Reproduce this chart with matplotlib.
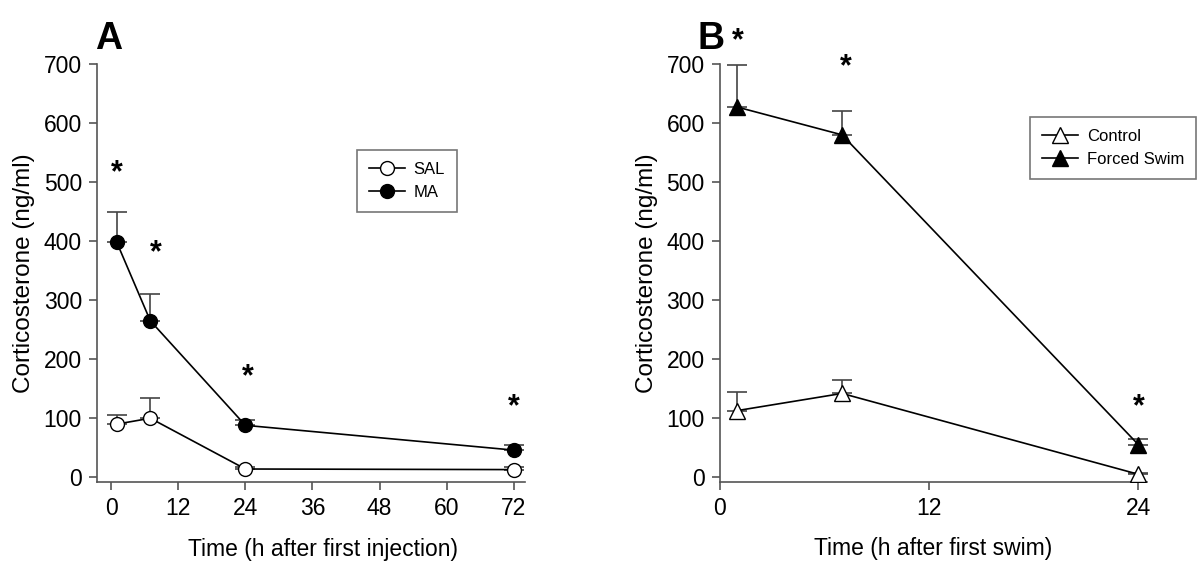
import matplotlib
matplotlib.use("Agg")
import matplotlib.pyplot as plt

plt.rcParams['font.family'] = ['Liberation Sans', 'DejaVu Sans']

# Panel A data
a_time = [1, 7, 24, 72]
sal_mean = [90, 100, 14, 13]
sal_err = [16, 35, 4, 4]
ma_mean = [398, 265, 88, 46]
ma_err = [52, 46, 9, 9]
a_star_x = [1, 8, 24.5, 72]
a_star_y = [515, 380, 170, 118]
a_xticks = [0, 12, 24, 36, 48, 60, 72]

# Panel B data
b_time = [1, 7, 24]
ctrl_mean = [113, 142, 5]
ctrl_err = [31, 23, 2]
swim_mean = [627, 580, 55]
swim_err = [71, 40, 10]
b_star_x = [1, 7.2, 24]
b_star_y = [738, 695, 118]
b_xticks = [0, 12, 24]

yticks = [0, 100, 200, 300, 400, 500, 600, 700]

fig = plt.figure(figsize=(12, 5.64), dpi=100)
axA = fig.add_axes([0.081, 0.1454, 0.3565, 0.7411])
axB = fig.add_axes([0.600, 0.1454, 0.356, 0.7411])

spine_col = '#555555'
ms = 10

def style(ax):
    for s in ['top', 'right']:
        ax.spines[s].set_visible(False)
    for s in ['left', 'bottom']:
        ax.spines[s].set_color(spine_col)
        ax.spines[s].set_linewidth(1.2)
    ax.tick_params(direction='out', length=6, width=1.2, color=spine_col,
                   labelsize=16.5, pad=5)
    ax.set_yticks(yticks)
    ax.set_ylim(-8, 700)
    ax.set_ylabel('Corticosterone (ng/ml)', fontsize=17.5, labelpad=6)

# Panel A
style(axA)
axA.errorbar(a_time, sal_mean, yerr=[[0]*4, sal_err], fmt='none',
             ecolor='#444444', elinewidth=1.2, capsize=7, capthick=1.2, zorder=2)
axA.errorbar(a_time, ma_mean, yerr=[[0]*4, ma_err], fmt='none',
             ecolor='#444444', elinewidth=1.2, capsize=7, capthick=1.2, zorder=2)
axA.plot(a_time, sal_mean, '-o', color='black', mfc='white', mec='black',
         ms=ms, lw=1.2, mew=1.0, label='SAL', zorder=3)
axA.plot(a_time, ma_mean, '-o', color='black', mfc='black', mec='black',
         ms=ms, lw=1.2, label='MA', zorder=3)
for x, y in zip(a_star_x, a_star_y):
    axA.text(x, y, '*', ha='center', va='center', fontsize=22, fontweight='bold')
axA.set_xlim(-2.5, 74)
axA.set_xticks(a_xticks)
axA.set_xlabel('Time (h after first injection)', fontsize=16.5, labelpad=12)
axA.xaxis.set_label_coords(0.528, -0.135)
legA = axA.legend(loc='upper left', bbox_to_anchor=(0.607, 0.794), frameon=True,
                  fancybox=False, fontsize=12, handlelength=2.2, borderpad=0.7,
                  labelspacing=0.5, handletextpad=0.5, borderaxespad=0)
legA.get_frame().set_edgecolor(spine_col)
legA.get_frame().set_linewidth(1.2)
fig.text(0.079, 0.93, 'A', fontsize=27, fontweight='bold', ha='left', va='center')

# Panel B
style(axB)
axB.errorbar(b_time, ctrl_mean, yerr=[[0]*3, ctrl_err], fmt='none',
             ecolor='#444444', elinewidth=1.2, capsize=7, capthick=1.2, zorder=2)
axB.errorbar(b_time, swim_mean, yerr=[[0]*3, swim_err], fmt='none',
             ecolor='#444444', elinewidth=1.2, capsize=7, capthick=1.2, zorder=2)
axB.plot(b_time, ctrl_mean, '-^', color='black', mfc='white', mec='black',
         ms=11, lw=1.2, mew=1.0, label='Control', zorder=3)
axB.plot(b_time, swim_mean, '-^', color='black', mfc='black', mec='black',
         ms=11, lw=1.2, label='Forced Swim', zorder=3)
for x, y in zip(b_star_x, b_star_y):
    axB.text(x, y, '*', ha='center', va='center', fontsize=22, fontweight='bold',
             clip_on=False)
axB.set_xlim(0, 24.5)
axB.set_xticks(b_xticks)
axB.set_xlabel('Time (h after first swim)', fontsize=16.5, labelpad=12)
legB = axB.legend(loc='upper left', bbox_to_anchor=(0.726, 0.873), frameon=True,
                  fancybox=False, fontsize=12, handlelength=2.2, borderpad=0.7,
                  labelspacing=0.5, handletextpad=0.5, borderaxespad=0)
legB.get_frame().set_edgecolor(spine_col)
legB.get_frame().set_linewidth(1.2)
fig.text(0.581, 0.93, 'B', fontsize=27, fontweight='bold', ha='left', va='center')

fig.savefig('out.png', dpi=100, facecolor='white')
